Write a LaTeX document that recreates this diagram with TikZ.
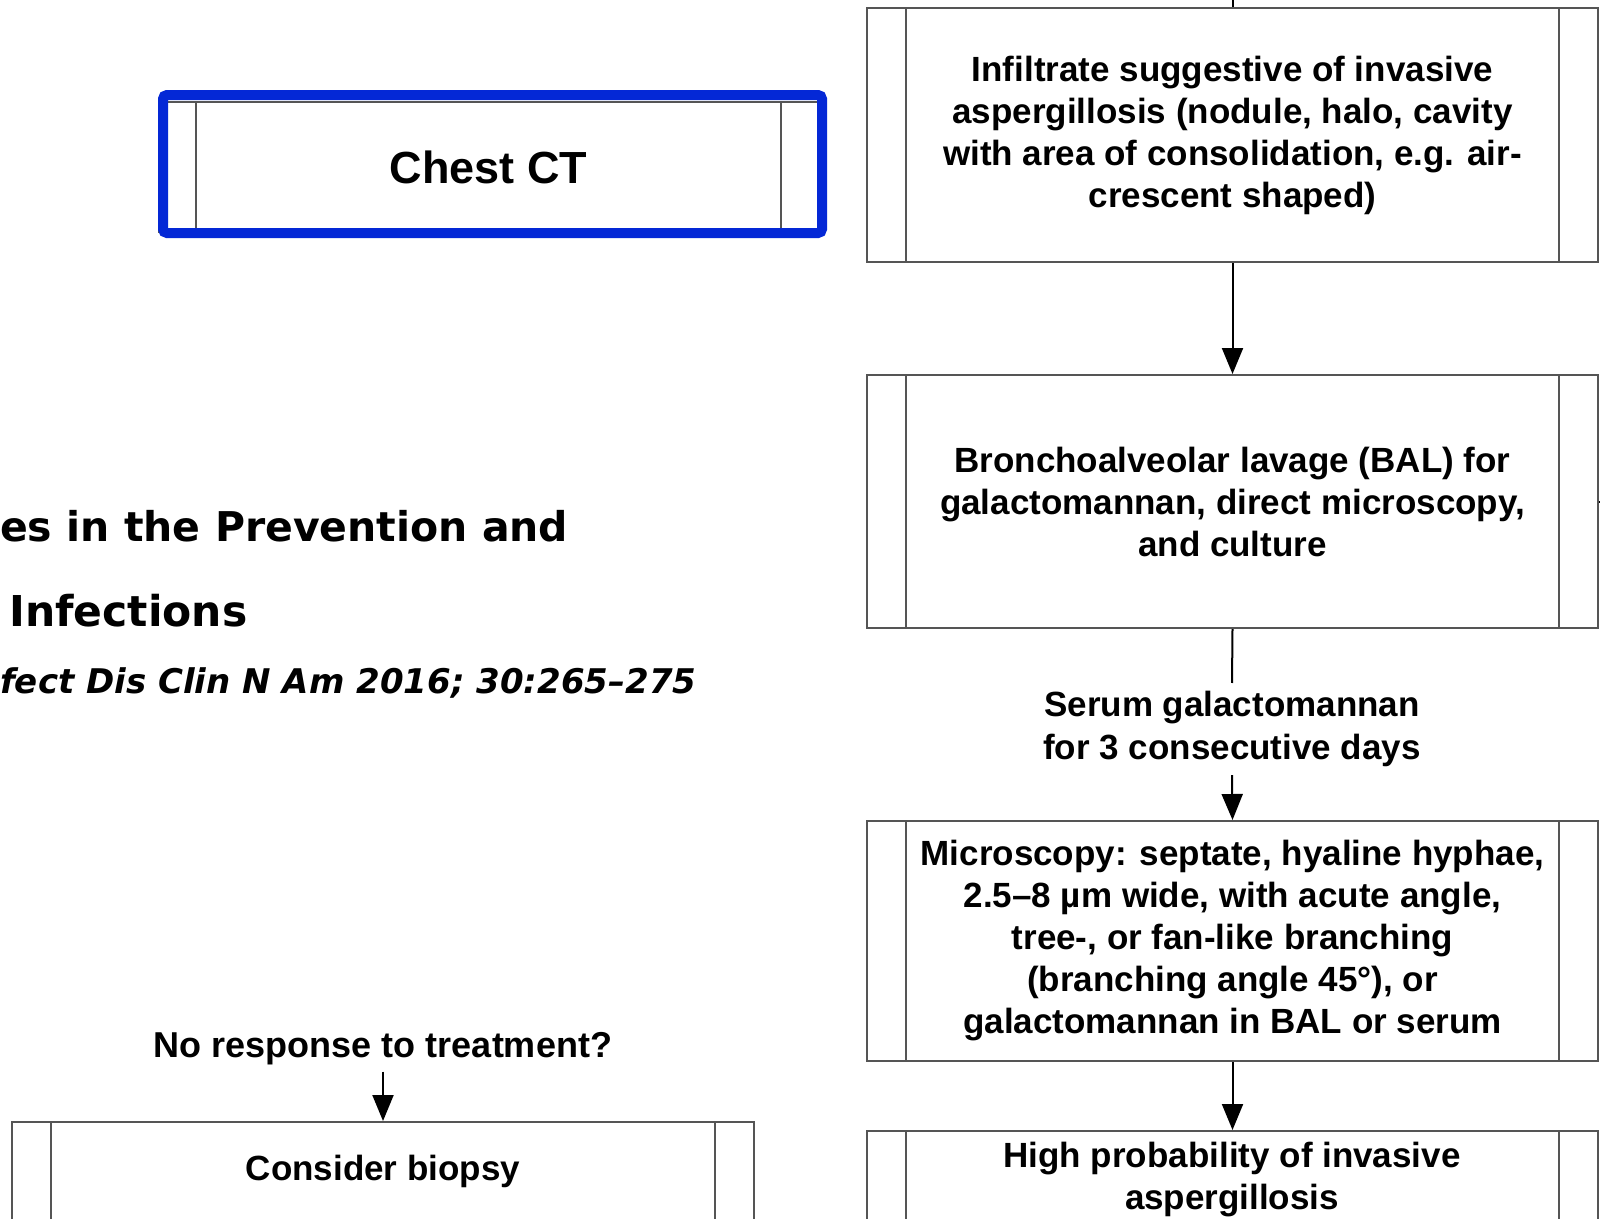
\documentclass[tikz,border=0pt]{standalone}
\usepackage{fontspec}
\setmainfont{Liberation Sans}
\newfontfamily\titlefont{DejaVu Sans}
\usetikzlibrary{arrows.meta}
\definecolor{boxgray}{RGB}{85,85,85}
\definecolor{hlblue}{RGB}{4,40,214}
\begin{document}
\begin{tikzpicture}[x=1pt,y=-1pt,
  proc/.style={draw=boxgray, line width=2pt, fill=white, inner sep=0pt, align=center,
    font=\fontsize{35}{42}\selectfont\bfseries,
    path picture={
      \draw[boxgray,line width=2pt] ([xshift=#1]path picture bounding box.north west) -- ([xshift=#1]path picture bounding box.south west);
      \draw[boxgray,line width=2pt] ([xshift=-#1]path picture bounding box.north east) -- ([xshift=-#1]path picture bounding box.south east);}},
  proc/.default=39pt,
  txt/.style={font=\fontsize{35}{42}\selectfont\bfseries, align=center, inner xsep=0pt},
  ttl/.style={font=\titlefont\fontsize{41}{48}\selectfont\bfseries, anchor=west, inner sep=0pt},
  arr/.style={line width=2pt, -{Triangle[length=26pt,width=21pt]}},
  ln/.style={line width=2pt}]
\useasboundingbox (0,0) rectangle (1600,1218);
\clip (0,0) rectangle (1600,1218);
\fill[white] (0,0) rectangle (1600,1218);

% title fragments
\node[ttl] (t1) at (0,526) {es in the Prevention and};
\node[ttl, font=\titlefont\fontsize{42.5}{48}\selectfont\bfseries] (t2) at (9,611) {Infections};
\node[ttl, font=\titlefont\fontsize{34}{40}\selectfont\bfseries\itshape] (t3) at (0,683) {fect Dis Clin N Am 2016; 30:265–275};

% chest CT
\node[proc=37pt, minimum width=659pt, minimum height=130pt, font=\fontsize{45}{50}\selectfont\bfseries] (ct) at (488.5,167) {Chest CT};
\node[draw=hlblue, line width=10pt, rounded corners=4pt, minimum width=659pt, minimum height=138pt, inner sep=0pt] (hl) at (492.5,164) {};

% right column
\node[proc, minimum width=731pt, minimum height=254pt] (A) at (1232.5,135)
  {Infiltrate suggestive of invasive\\aspergillosis (nodule, halo, cavity\\with area of consolidation, e.g. air-\\crescent shaped)};
\node[proc, minimum width=731pt, minimum height=253pt] (B) at (1232.5,501.5)
  {Bronchoalveolar lavage (BAL) for\\galactomannan, direct microscopy,\\and culture};
\node[txt, inner ysep=8pt, font=\fontsize{35}{43}\selectfont\bfseries] (serum) at (1232,729) {Serum galactomannan\\for 3 consecutive days};
\node[proc, minimum width=731pt, minimum height=240pt] (C) at (1232.5,941)
  {Microscopy: septate, hyaline hyphae,\\2.5–8 µm wide, with acute angle,\\tree-, or fan-like branching\\(branching angle 45°), or\\galactomannan in BAL or serum};
\node[proc, minimum width=731pt, minimum height=200pt] (D) at (1232.5,1231) {};
\node[txt] (Dt) at (1232,1180) {High probability of invasive\\aspergillosis};

% left bottom
\node[txt, inner ysep=6pt, font=\fontsize{36}{42}\selectfont\bfseries] (nr) at (383,1049) {No response to treatment?};
\node[proc, minimum width=742pt, minimum height=200pt] (E) at (383,1222) {};
\node[txt] (Et) at (383,1171) {Consider biopsy};

% connectors
\coordinate (topin) at (1232.5,-20);
\coordinate (rightout) at (1640,501.5);
\draw[ln] (topin) -- (A.north);
\draw[ln] (B.east) -- (rightout);
\draw[arr] (A.south) -- (B.north);
\draw[ln] (B.south) -- (serum.north);
\draw[arr] (serum.south) -- (C.north);
\draw[arr] (C.south) -- (D.north);
\draw[arr] (nr.south) -- (E.north);
\end{tikzpicture}
\end{document}
